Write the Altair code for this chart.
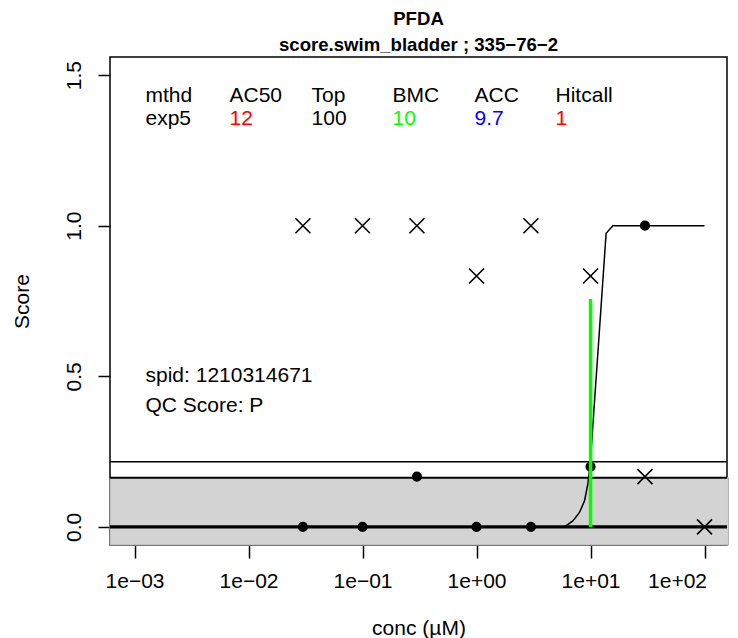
import altair as alt
import pandas as pd

# ---------------- data ----------------
resp_conc = [0.03, 0.1, 0.3, 1, 3, 10, 30]
resp_score = [0.0, 0.0, 0.167, 0.0, 0.0, 0.2, 1.0]

other_conc = [0.03, 0.1, 0.3, 1, 3, 10, 30, 100]
other_score = [1.0, 1.0, 1.0, 0.833, 1.0, 0.833, 0.167, 0.0]

curve_conc = [0.03, 5.9, 7.0, 8.0, 8.86, 9.48, 9.94, 13.7, 15.7, 100]
curve_score = [0.0, 0.0, 0.02, 0.048, 0.087, 0.143, 0.21, 0.975, 1.0, 1.0]

bmc_conc = [10]
bmc_height = [0.757]
cutoff = [0.163]
upper_line = [0.216]
zero_line = [0.0]

x_ticks = [0.001, 0.01, 0.1, 1, 10, 100]
x_tick_labels = ["1e\u221203", "1e\u221202", "1e\u221201", "1e+00", "1e+01", "1e+02"]
y_ticks = [0.0, 0.5, 1.0, 1.5]
y_tick_labels = ["0.0", "0.5", "1.0", "1.5"]

header_labels = ["mthd", "AC50", "Top", "BMC", "ACC", "Hitcall"]
header_values = ["exp5", "12", "100", "10", "9.7", "1"]
value_colors = ["black", "#FF0000", "black", "#00FF00", "#0000FF", "#FF0000"]
info_lines = ["spid: 1210314671", "QC Score: P"]

title_lines = ["PFDA", "score.swim_bladder ; 335\u221276\u22122"]

# annotation anchors (data coordinates, as log10 conc / score)
col_log = [-2.9035, -2.167, -1.447, -0.737, -0.018, 0.693]
row_score = [1.412, 1.334]
info_score = [0.482, 0.380]

# axis limits
x_lo, x_hi = 10 ** -3.215, 10 ** 2.197
y_lo, y_hi = -0.06, 1.56
rect_right = 10 ** 2.21

FONT = "Liberation Sans"

xs = alt.Scale(type="log", domain=[x_lo, x_hi], nice=False)
ys = alt.Scale(domain=[y_lo, y_hi], nice=False, zero=False)


def lab_expr(vals, labs):
    expr = "''"
    for v, l in reversed(list(zip(vals, labs))):
        expr = f"abs(datum.value - {v}) < {abs(v) * 0.01 + 1e-9} ? '{l}' : ({expr})"
    return expr


x_axis = alt.Axis(
    values=x_ticks, labelExpr=lab_expr(x_ticks, x_tick_labels), domain=False,
    grid=False, tickSize=13, tickWidth=1.5, tickColor="black",
    labelFont=FONT, labelFontSize=21, labelColor="black", labelPadding=29,
    labelBaseline="alphabetic", labelFlush=23.5, labelFlushOffset=2, labelOverlap=False,
    title="conc (\u00b5M)", titleFont=FONT, titleFontSize=21, titleFontWeight="normal",
    titleColor="black", titleBaseline="alphabetic", titleY=89,
)
y_axis = alt.Axis(
    values=y_ticks, labelExpr=lab_expr(y_ticks, y_tick_labels), domain=False,
    grid=False, tickSize=12, tickWidth=1.5, tickColor="black",
    labelFont=FONT, labelFontSize=21, labelColor="black", labelPadding=18,
    labelAngle=270, labelAlign="center", labelBaseline="alphabetic",
    labelFlush=False, labelOverlap=False,
    title="Score", titleFont=FONT, titleFontSize=21, titleFontWeight="normal",
    titleColor="black", titleAngle=270, titleAlign="center",
    titleBaseline="alphabetic", titleX=-82, titleY=244,
)


def X(field):
    return alt.X(field, scale=xs, axis=x_axis)


def Y(field):
    return alt.Y(field, scale=ys, axis=y_axis)


# gray band
band_df = pd.DataFrame({"x": [x_lo], "x2": [rect_right], "y": [y_lo], "y2": cutoff})
band = alt.Chart(band_df).mark_rect(fill="#D3D3D3", stroke="#B0B0B0", strokeWidth=1).encode(
    x=X("x:Q"), x2="x2:Q", y=Y("y:Q"), y2="y2:Q",
)

upper = alt.Chart(pd.DataFrame({"y": upper_line})).mark_rule(color="black", strokeWidth=1.5).encode(
    y=Y("y:Q"))
cut = alt.Chart(pd.DataFrame({"y": cutoff})).mark_rule(color="black", strokeWidth=2).encode(
    y=Y("y:Q"))
zero = alt.Chart(pd.DataFrame({"y": zero_line})).mark_rule(color="black", strokeWidth=3.2).encode(
    y=Y("y:Q"))

curve = alt.Chart(pd.DataFrame({"conc": curve_conc, "score": curve_score})).mark_line(
    color="black", strokeWidth=1.5).encode(x=X("conc:Q"), y=Y("score:Q"))

circles = alt.Chart(pd.DataFrame({"conc": resp_conc, "score": resp_score})).mark_point(
    shape="circle", filled=True, size=104, color="black", opacity=1).encode(
    x=X("conc:Q"), y=Y("score:Q"))

bmc = alt.Chart(pd.DataFrame({"conc": bmc_conc, "y": zero_line, "y2": bmc_height})).mark_rule(
    color="#00FF00", strokeWidth=3.5).encode(x=X("conc:Q"), y=Y("y:Q"), y2="y2:Q")

crosses = alt.Chart(pd.DataFrame({"conc": other_conc, "score": other_score})).mark_point(
    shape="M-1,-1L1,1M-1,1L1,-1", filled=False, size=225, color="black",
    strokeWidth=1.6, opacity=1).encode(x=X("conc:Q"), y=Y("score:Q"))

# annotation text
rows = []
for i in range(len(header_labels)):
    rows.append({"conc": 10 ** col_log[i], "score": row_score[0], "t": header_labels[i], "c": "black"})
    rows.append({"conc": 10 ** col_log[i], "score": row_score[1], "t": header_values[i], "c": value_colors[i]})
for s, t in zip(info_score, info_lines):
    rows.append({"conc": 10 ** col_log[0], "score": s, "t": t, "c": "black"})
texts = alt.Chart(pd.DataFrame(rows)).mark_text(
    align="left", baseline="alphabetic", font=FONT, fontSize=21).encode(
    x=X("conc:Q"), y=Y("score:Q"),
    text="t:N", color=alt.Color("c:N", scale=None))

chart = alt.layer(band, upper, cut, zero, curve, circles, bmc, crosses, texts).properties(
    width=617, height=488,
    padding={"left": 102, "top": 49, "right": 3, "bottom": 93},
    autosize=alt.AutoSizeParams(type="none"),
    title=alt.TitleParams(
        text=title_lines, font=FONT, fontSize=18.6, fontWeight="bold", color="black",
        anchor="middle", frame="group", lineHeight=26, offset=2),
).configure(background="white").configure_view(stroke="black", strokeWidth=1.5)

chart.save("out.html", embed_options={"renderer": "svg", "actions": False})
